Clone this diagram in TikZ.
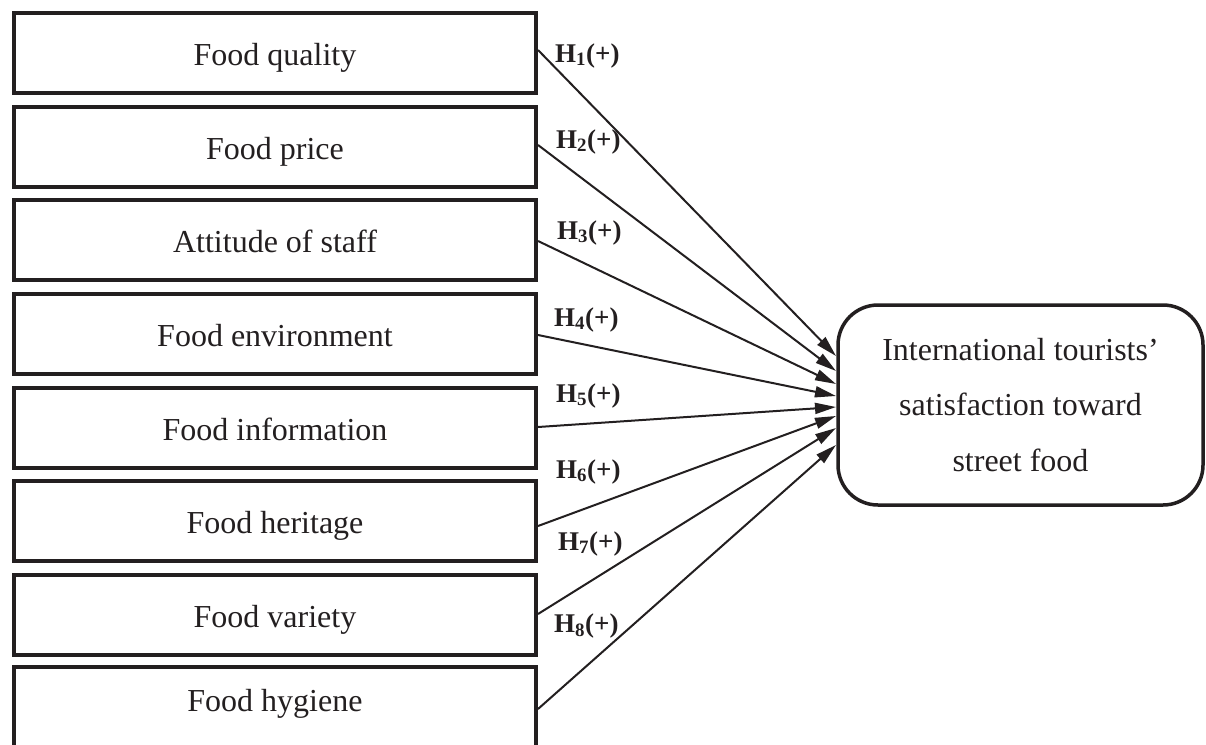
\documentclass[tikz,border=0pt]{standalone}
\usepackage{fontspec}
\setmainfont{Liberation Serif}
\usetikzlibrary{arrows.meta,calc}
\definecolor{ink}{RGB}{35,31,32}
\begin{document}
\begin{tikzpicture}[x=1pt,y=-1pt,
  factor/.style={draw=ink, line width=4pt, minimum width=522pt, inner sep=0pt,
    text height=52pt, text depth=28pt, font=\fontsize{32}{38}\selectfont, text=ink, anchor=north},
  outcome/.style={draw=ink, line width=3.5pt, rounded corners=40pt, minimum width=365pt,
    minimum height=200pt, align=center, font=\fontsize{32}{55.5}\selectfont, text=ink},
  hyp/.style={anchor=base west, inner sep=0pt, font=\fontsize{27}{30}\selectfont\bfseries, text=ink},
  link/.style={draw=ink, line width=2pt, -{Triangle[length=21pt,width=11pt]}}]
\useasboundingbox (0,0) rectangle (1206,744);
\fill[white] (0,0) rectangle (1206,744);

\node[factor] (b1) at (275,11)  {Food quality};
\node[factor] (b2) at (275,105) {Food price};
\node[factor] (b3) at (275,198) {Attitude of staff};
\node[factor] (b4) at (275,292) {Food environment};
\node[factor] (b5) at (275,386) {Food information};
\node[factor] (b6) at (275,479) {Food heritage};
\node[factor] (b7) at (275,573) {Food variety};
\node[factor, text height=44pt, text depth=100pt] (b8) at (275,665) {Food hygiene};

\node[outcome] (out) at (1020.5,405) {International tourists’\\satisfaction toward\\street food};

\coordinate (t1) at (836,356);
\coordinate (t2) at (836,371);
\coordinate (t3) at (836,384);
\coordinate (t4) at (836,396);
\coordinate (t5) at (836,407);
\coordinate (t6) at (836,416);
\coordinate (t7) at (836,428);
\coordinate (t8) at (836,445);

\draw[link] ([yshift=3pt]b1.east) -- (t1);
\draw[link] ([yshift=2pt]b2.east) -- (t2);
\draw[link] ([yshift=-1pt]b3.east) -- (t3);
\draw[link] ([yshift=-1pt]b4.east) -- (t4);
\draw[link] ([yshift=1pt]b5.east) -- (t5);
\draw[link] ([yshift=-5pt]b6.east) -- (t6);
\draw[link] ([yshift=1pt]b7.east) -- (t7);
\draw[link] ([yshift=30pt]b8.east) -- (t8);

\node[hyp] (h1) at (555,62)  {H\textsubscript{1}(+)};
\node[hyp] (h2) at (556,148) {H\textsubscript{2}(+)};
\node[hyp] (h3) at (557,239) {H\textsubscript{3}(+)};
\node[hyp] (h4) at (554,326) {H\textsubscript{4}(+)};
\node[hyp] (h5) at (556,402) {H\textsubscript{5}(+)};
\node[hyp] (h6) at (556,478) {H\textsubscript{6}(+)};
\node[hyp] (h7) at (558,550) {H\textsubscript{7}(+)};
\node[hyp] (h8) at (554,632) {H\textsubscript{8}(+)};
\end{tikzpicture}
\end{document}
